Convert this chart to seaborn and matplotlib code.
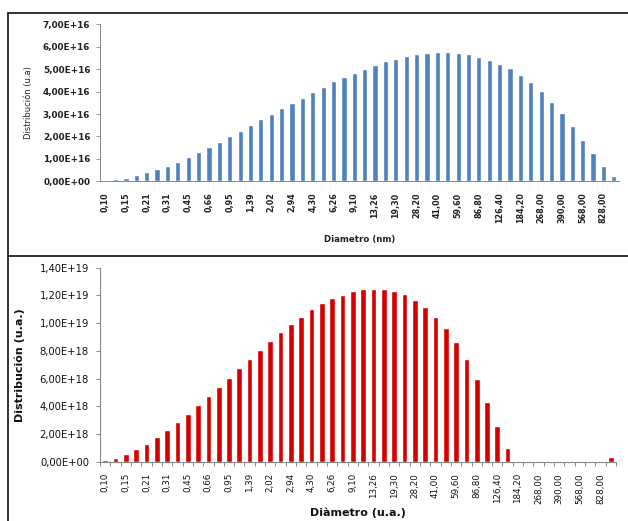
import numpy as np
import pandas as pd
import seaborn as sns
import matplotlib.pyplot as plt
from matplotlib.lines import Line2D
from matplotlib.ticker import FuncFormatter, MultipleLocator

# diameter bins (only every other one is labelled on the axis)
diam_labels = ['0,10', '0,15', '0,21', '0,31', '0,45', '0,66', '0,95', '1,39', '2,02',
               '2,94', '4,30', '6,26', '9,10', '13,26', '19,30', '28,20', '41,00',
               '59,60', '86,80', '126,40', '184,20', '268,00', '390,00', '568,00', '828,00']
bins = list(range(1, 51))

# top chart, Distribución (u.a), x 1E16
top_vals = [0.06, 0.09, 0.15, 0.27, 0.42, 0.55, 0.70, 0.88, 1.10, 1.31,
            1.53, 1.75, 2.01, 2.24, 2.50, 2.76, 3.00, 3.27, 3.51, 3.73,
            3.98, 4.19, 4.46, 4.64, 4.84, 5.02, 5.20, 5.35, 5.45, 5.57,
            5.68, 5.72, 5.75, 5.75, 5.72, 5.68, 5.56, 5.42, 5.25, 5.04,
            4.74, 4.43, 4.03, 3.55, 3.05, 2.47, 1.86, 1.25, 0.67, 0.24]

# bottom chart, Distribución (u.a.), x 1E18
bot_vals = [0.14, 0.29, 0.55, 0.91, 1.32, 1.83, 2.31, 2.86, 3.48, 4.11,
            4.73, 5.43, 6.05, 6.75, 7.44, 8.07, 8.72, 9.34, 9.97, 10.45,
            11.02, 11.43, 11.79, 12.06, 12.34, 12.49, 12.49, 12.49, 12.34, 12.08,
            11.65, 11.14, 10.47, 9.63, 8.62, 7.40, 5.98, 4.32, 2.57, 0.98,
            0.07, 0.0, 0.0, 0.0, 0.0, 0.0, 0.0, 0.0, 0.07, 0.36]

df_top = pd.DataFrame({'bin': bins, 'val': np.array(top_vals) * 1e16})
df_bot = pd.DataFrame({'bin': bins, 'val': np.array(bot_vals) * 1e18})

sns.set_style('white')
plt.rcParams['font.family'] = ['DejaVu Sans']

fig = plt.figure(figsize=(6.28, 5.21), dpi=100)
W, H = 628, 521

def sci(v, pos):
    return f'{v:.2E}'.replace('.', ',')

# ---- top chart
ax1 = fig.add_axes([100 / W, 1 - 181.3 / H, 519 / W, 157 / H])
sns.barplot(data=df_top, x='bin', y='val', color='#4F81BD', saturation=1,
            width=0.5, ax=ax1)
ax1.set_xlim(-0.5, 49.5)
ax1.set_ylim(0, 7e16)
ax1.yaxis.set_major_locator(MultipleLocator(1e16))
ax1.yaxis.set_major_formatter(FuncFormatter(sci))
ax1.set_xticks(range(0, 50, 2))
ax1.set_xticklabels(diam_labels, rotation=90, fontsize=5.8, fontweight='bold',
                    color='#222222')
for t in ax1.get_yticklabels():
    t.set_fontsize(6.4)
    t.set_fontweight('bold')
    t.set_color('#222222')
ax1.tick_params(axis='x', length=0, pad=8)
ax1.tick_params(axis='y', length=3, width=0.6, color='#888888', pad=4, left=True)
ax1.set_ylabel('Distribución (u.a)', fontsize=6, color='#222222', labelpad=7)
ax1.set_xlabel('Diametro (nm)', fontsize=6.2, fontweight='bold', color='#222222',
               labelpad=8)
sns.despine(ax=ax1)
for s in ['left', 'bottom']:
    ax1.spines[s].set_color('#888888')
    ax1.spines[s].set_linewidth(0.7)

# ---- bottom chart
ax2 = fig.add_axes([100 / W, 1 - 462 / H, 516 / W, 194.3 / H])
sns.barplot(data=df_bot, x='bin', y='val', color='#D40000', saturation=1,
            width=0.55, ax=ax2)
ax2.set_xlim(-0.5, 49.5)
ax2.set_ylim(0, 1.4e19)
ax2.yaxis.set_major_locator(MultipleLocator(2e18))
ax2.yaxis.set_major_formatter(FuncFormatter(sci))
ax2.set_xticks(range(0, 50, 2))
ax2.set_xticklabels(diam_labels, rotation=90, fontsize=6.3, color='#111111')
ax2.set_xticks(np.arange(-0.5, 50, 1), minor=True)
for t in ax2.get_yticklabels():
    t.set_fontsize(7.2)
    t.set_color('#111111')
ax2.tick_params(axis='x', which='major', length=0, pad=8)
ax2.tick_params(axis='x', which='minor', length=3, width=0.7, color='#888888',
                bottom=True)
ax2.tick_params(axis='y', length=3, width=0.7, color='#888888', pad=5, left=True)
ax2.set_ylabel('Distribución (u.a.)', fontsize=8, fontweight='bold', color='#111111',
               labelpad=10)
ax2.set_xlabel('Diàmetro (u.a.)', fontsize=8, fontweight='bold', color='#111111',
               labelpad=3)
sns.despine(ax=ax2)
for s in ['left', 'bottom']:
    ax2.spines[s].set_color('#888888')
    ax2.spines[s].set_linewidth(0.8)

# ---- frames around the two charts
def fline(x0, y0, x1, y1):
    fig.add_artist(Line2D([x0 / W, x1 / W], [1 - y0 / H, 1 - y1 / H],
                          color='#222222', lw=1.3))

fline(8, 12.5, W, 12.5)
fline(8, 12.5, 8, H)
fline(8, 256, W, 256)

fig.savefig('out.png', dpi=100)
